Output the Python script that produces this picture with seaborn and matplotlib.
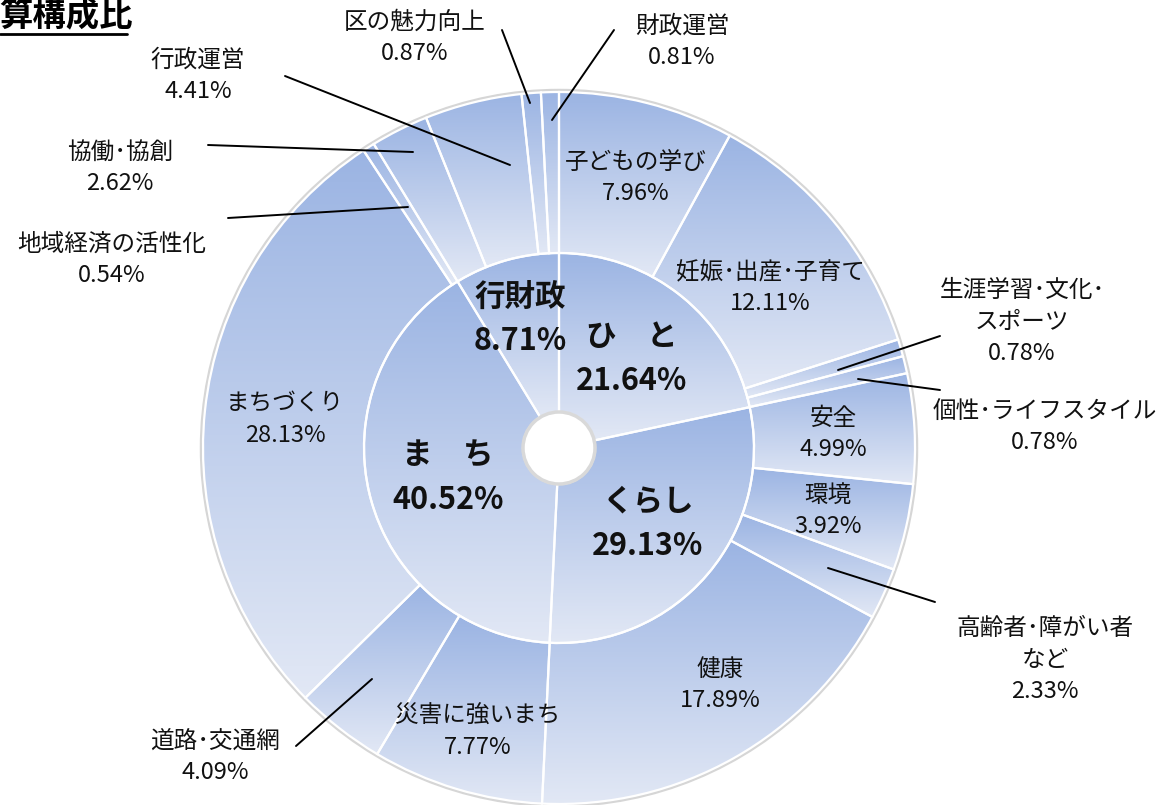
import numpy as np
import seaborn as sns
import matplotlib.pyplot as plt
from matplotlib.patches import Wedge, Circle

# 内側（分野）
inner_names = ["ひ　と", "くらし", "ま　ち", "行財政"]
inner_values = [21.64, 29.13, 40.52, 8.71]

# 外側（施策）時計回り、12時から
outer_names = ["子どもの学び", "妊娠･出産･子育て", "生涯学習･文化･\nスポーツ", "個性･ライフスタイル",
               "安全", "環境", "高齢者･障がい者\nなど", "健康",
               "災害に強いまち", "道路･交通網", "まちづくり", "地域経済の活性化",
               "協働･協創", "行政運営", "区の魅力向上", "財政運営"]
outer_values = [7.96, 12.11, 0.78, 0.78,
                4.99, 3.92, 2.33, 17.89,
                7.77, 4.09, 28.13, 0.54,
                2.62, 4.41, 0.87, 0.81]

sns.set_theme(style="white")
plt.rcParams['font.family'] = ['Noto Sans CJK JP', 'DejaVu Sans']

W, H = 1158, 805
cx, cy = 559, H - 448
r_out, r_mid, r_hole = 356, 195, 36

cmap = sns.blend_palette(["#9bb4e3", "#e2e8f5"], as_cmap=True)
grad = np.linspace(0, 1, 256).reshape(-1, 1)

fig = plt.figure(figsize=(W / 100, H / 100), dpi=100)
ax = fig.add_axes([0, 0, 1, 1])
ax.set_axis_off()


def ring(values, r, width):
    total = sum(values)
    start = 90.0
    for v in values:
        end = start - v / total * 360
        w = Wedge((cx, cy), r, end, start, width=width, facecolor="none",
                  edgecolor="white", lw=1.6, zorder=3)
        ax.add_patch(w)
        bb = w.get_path().get_extents()
        im = ax.imshow(grad, cmap=cmap, extent=[bb.x0, bb.x1, bb.y0, bb.y1],
                       origin="upper", aspect="auto", zorder=2)
        im.set_clip_path(w)
        start = end


# 外周のうすい影
ax.add_patch(Circle((cx, cy), r_out + 1.5, facecolor="none", edgecolor="#d6d6d6", lw=2.5, zorder=1))
ring(outer_values, r_out, r_out - r_mid)
ring(inner_values, r_mid, r_mid - r_hole)
ax.add_patch(Circle((cx, cy), r_hole, facecolor="white", edgecolor="#d9d9d9", lw=2.5, zorder=4))

# ラベル位置（画素座標、上が0、ブロック中心）
outer_pos = [(636, 178), (770, 288), (1022, 322), (1045, 427),
             (833, 434), (828, 511), (1045, 660), (720, 685),
             (478, 732), (215, 757), (285, 420), (112, 260),
             (120, 168), (198, 76), (415, 38), (682, 42)]
leaders = {2: [(940, 336), (838, 370)],
           3: [(940, 390), (858, 379)],
           6: [(935, 602), (828, 568)],
           9: [(296, 746), (372, 679)],
           11: [(228, 218), (408, 207)],
           12: [(208, 145), (413, 152)],
           13: [(285, 76), (510, 165)],
           14: [(502, 30), (530, 103)],
           15: [(614, 30), (552, 120)]}

for i, (name, val) in enumerate(zip(outer_names, outer_values)):
    x, y = outer_pos[i]
    ax.text(x, H - y, f"{name}\n{val:.2f}%", ha="center", va="center",
            fontsize=17, color="#111111", linespacing=1.45, zorder=6)

for i, pts in leaders.items():
    (x0, y0), (x1, y1) = pts
    ax.plot([x0, x1], [H - y0, H - y1], color="black", lw=1.4, zorder=5)

inner_pos = [(632, 359), (648, 524), (448, 478), (520, 319)]
for name, val, (x, y) in zip(inner_names, inner_values, inner_pos):
    ax.text(x, H - y, f"{name}\n{val:.2f}%", ha="center", va="center",
            fontsize=22, fontweight="bold", color="#111111", linespacing=1.5, zorder=6)

# タイトル（左端で切れている部分は描かない）
ax.text(-1, H - 17, "算構成比", ha="left", va="center", fontsize=24, fontweight="bold",
        color="black", zorder=6)
ax.plot([0, 127], [H - 34, H - 34], color="black", lw=2, zorder=6)

ax.set_xlim(0, W)
ax.set_ylim(0, H)
fig.savefig("out.png", dpi=100)
